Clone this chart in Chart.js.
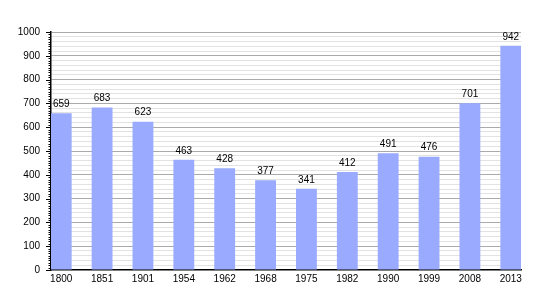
<!DOCTYPE html>
<html>
<head>
<meta charset="utf-8">
<script src="https://cdn.jsdelivr.net/npm/chart.js@4"></script>
<style>
  html, body { margin: 0; padding: 0; background: #fff; }
  #wrap { width: 550px; height: 300px; }
</style>
</head>
<body>
<div id="wrap"><canvas id="popChart" width="550" height="300"></canvas></div>
<script>
const years = ['1800', '1851', '1901', '1954', '1962', '1968', '1975', '1982', '1990', '1999', '2008', '2013'];
const population = [659, 683, 623, 463, 428, 377, 341, 412, 491, 476, 701, 942];
const yTicks = [0, 100, 200, 300, 400, 500, 600, 700, 800, 900, 1000];

const FONT = 'Liberation Sans, Arial, sans-serif';

// bar value labels above each bar
const valueLabels = {
    id: 'valueLabels',
    afterDatasetsDraw(chart) {
        const ctx = chart.ctx;
        const meta = chart.getDatasetMeta(0);
        ctx.save();
        ctx.font = '10px ' + FONT;
        ctx.fillStyle = '#000';
        ctx.textAlign = 'center';
        ctx.textBaseline = 'bottom';
        meta.data.forEach((bar, i) => {
            ctx.fillText(String(population[i]), bar.x, bar.y - 4);
        });
        ctx.restore();
    }
};

// long ticks on hundreds, short ticks every 10 on the y axis
const yTickMarks = {
    id: 'yTickMarks',
    afterDraw(chart) {
        const ctx = chart.ctx;
        const y = chart.scales.y;
        const x0 = chart.chartArea.left;
        ctx.save();
        ctx.strokeStyle = '#000';
        ctx.lineWidth = 1;
        y.ticks.forEach(t => {
            const py = Math.round(y.getPixelForValue(t.value)) + 0.5;
            const len = t.value % 100 === 0 ? 5 : 2.5;
            ctx.beginPath();
            ctx.moveTo(x0 - len, py);
            ctx.lineTo(x0, py);
            ctx.stroke();
        });
        ctx.restore();
    }
};

new Chart(document.getElementById('popChart'), {
    type: 'bar',
    data: {
        datasets: [{
            data: population.map((v, i) => ({ x: i, y: v })),
            backgroundColor: 'rgb(153,170,255)',
            borderWidth: 0,
            categoryPercentage: 1,
            barPercentage: 0.51
        }]
    },
    options: {
        responsive: false,
        animation: false,
        layout: { padding: { top: 32, right: 29, left: 0, bottom: 0 } },
        plugins: {
            legend: { display: false },
            tooltip: { enabled: false }
        },
        scales: {
            x: {
                type: 'linear',
                offset: false,
                min: -0.25,
                max: 11.25,
                afterBuildTicks: scale => {
                    scale.ticks = years.map((_, i) => ({ value: i }));
                },
                afterFit: scale => { scale.height = 30; },
                grid: { display: false, drawTicks: false, tickLength: 0 },
                border: { display: true, color: '#000', width: 1.5 },
                ticks: {
                    autoSkip: false,
                    maxRotation: 0,
                    padding: 3,
                    color: '#000',
                    font: { family: FONT, size: 10 },
                    callback: v => years[v]
                }
            },
            y: {
                min: 0,
                max: 1000,
                afterBuildTicks: scale => {
                    const t = [];
                    for (let v = 0; v <= 1000; v += 10) t.push({ value: v });
                    scale.ticks = t;
                },
                afterFit: scale => { scale.width = 51; },
                border: { display: true, color: '#000', width: 1.5 },
                grid: {
                    color: c => {
                        const v = c.tick ? c.tick.value : 0;
                        if (v === 0) return 'rgba(0,0,0,0)';
                        if (v % 100 === 0) return '#aaaaaa';
                        if (v % 20 === 0) return '#e2e2e2';
                        return 'rgba(0,0,0,0)';
                    },
                    drawTicks: false
                },
                ticks: {
                    autoSkip: false,
                    padding: 11,
                    color: '#000',
                    font: { family: FONT, size: 10 },
                    callback: v => yTicks.includes(v) ? String(v) : ''
                }
            }
        }
    },
    plugins: [valueLabels, yTickMarks]
});
</script>
</body>
</html>
